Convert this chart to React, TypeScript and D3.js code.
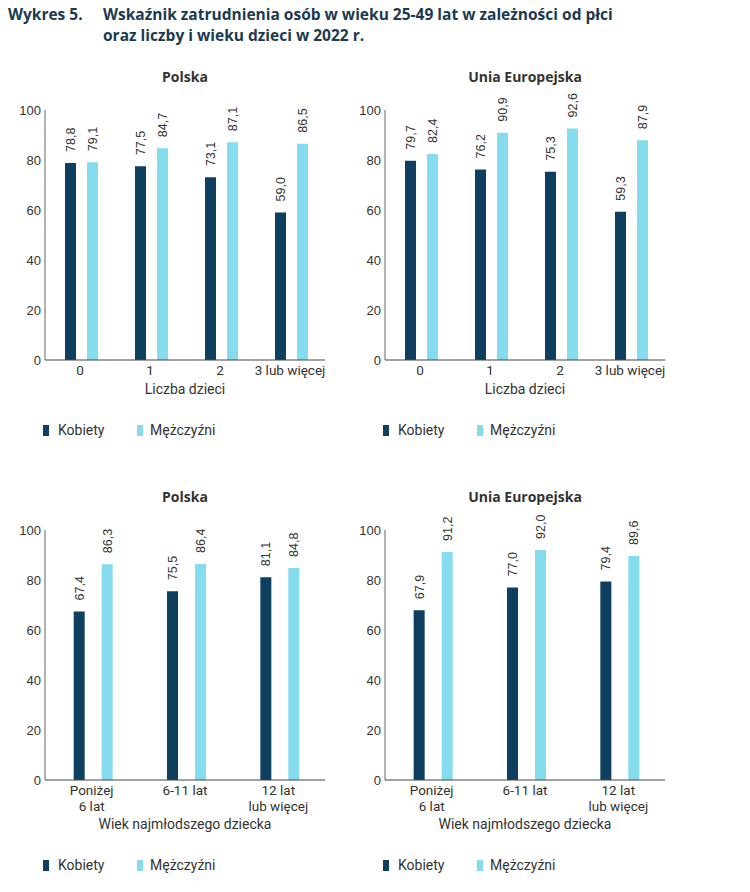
import React from 'react';
import * as d3 from 'd3';

// Liczba dzieci
const childCountCats = ['0', '1', '2', '3 lub więcej'];
const plCountWomen = [78.8, 77.5, 73.1, 59.0];
const plCountMen = [79.1, 84.7, 87.1, 86.5];
const euCountWomen = [79.7, 76.2, 75.3, 59.3];
const euCountMen = [82.4, 90.9, 92.6, 87.9];

// Wiek najmłodszego dziecka
const childAgeCats = [['Poniżej', '6 lat'], ['6-11 lat'], ['12 lat', 'lub więcej']];
const plAgeWomen = [67.4, 75.5, 81.1];
const plAgeMen = [86.3, 86.4, 84.8];
const euAgeWomen = [67.9, 77.0, 79.4];
const euAgeMen = [91.2, 92.0, 89.6];

const yTicks = [0, 20, 40, 60, 80, 100];
const seriesNames = ['Kobiety', 'Mężczyźni'];

const DARK = '#0f3f5e';
const LIGHT = '#86dcef';
const COLORS = [DARK, LIGHT];
const TEXT = '#333333';
const NUM_FONT = '"Liberation Sans", Arial, sans-serif';
const CAT_FONT = '"Open Sans", sans-serif';
const TICK_FONT = 'Roboto, sans-serif';

const fmt = (v: number) => v.toFixed(1).replace('.', ',');

interface PanelProps {
  left: number;
  top: number; // y of value 100
  title: string;
  cats: string[][];
  women: number[];
  men: number[];
  xLabel: string;
  subRange: [number, number];
  subPad: number;
}

const Panel: React.FC<PanelProps> = ({ left, top, title, cats, women, men, xLabel, subRange, subPad }) => {
  const width = 280;
  const height = 250;
  const x = d3.scaleBand<number>().domain(d3.range(cats.length)).range([left, left + width]);
  const sub = d3.scaleBand<number>().domain([0, 1]).range(subRange).paddingInner(subPad).paddingOuter(0);
  const y = d3.scaleLinear().domain([0, 100]).range([top + height, top]);
  const series = [women, men];
  const cx = (i: number) => (x(i) as number) + x.bandwidth() / 2;
  const nLines = d3.max(cats, c => c.length)!;
  const lastLineY = top + height + 15 + (nLines - 1) * 15;

  return (
    <g>
      <text x={left + width / 2} y={top - 28} textAnchor="middle" fontFamily={CAT_FONT}
        fontWeight={700} fontSize={14} fill={TEXT}>{title}</text>
      {yTicks.map(t => (
        <text key={t} x={left - 4} y={y(t)} dy="0.35em" textAnchor="end" fontFamily={NUM_FONT}
          fontSize={13} fill={TEXT}>{t}</text>
      ))}
      {series.map((vals, s) => vals.map((v, i) => {
        const bx = cx(i) + (sub(s) as number);
        return (
          <g key={`${s}-${i}`}>
            <rect x={bx} y={y(v)} width={sub.bandwidth()} height={y(0) - y(v)} fill={COLORS[s]} />
            <text transform={`translate(${bx + sub.bandwidth() / 2},${y(v) - 11}) rotate(-90)`}
              dy="0.35em" textAnchor="start" fontFamily={NUM_FONT} fontSize={12.5} fill={TEXT}>{fmt(v)}</text>
          </g>
        );
      }))}
      <line x1={left} x2={left} y1={top} y2={top + height} stroke="#999" strokeWidth={1.5} />
      <line x1={left} x2={left + width} y1={top + height} y2={top + height} stroke="#444" strokeWidth={1} />
      {cats.map((lines, i) => (
        <text key={i} x={cx(i)} textAnchor="middle" fontFamily={TICK_FONT} fontSize={13.5} fill={TEXT}>
          {lines.map((l, k) => (
            <tspan key={k} x={cx(i)} y={top + height + 14.5 + k * 16}>{l}</tspan>
          ))}
        </text>
      ))}
      <text x={left + width / 2} y={lastLineY + 19} textAnchor="middle" fontFamily={TICK_FONT}
        fontSize={14} fill={TEXT}>{xLabel}</text>
      {seriesNames.map((n, s) => (
        <g key={n}>
          <rect x={left - 2 + s * 94} y={lastLineY + 50} width={6} height={11} fill={COLORS[s]} />
          <text x={left + 13 + s * 92} y={lastLineY + 55.5} dy="0.35em" fontFamily={TICK_FONT}
            fontSize={14} fill={TEXT}>{n}</text>
        </g>
      ))}
    </g>
  );
};

const App: React.FC = () => {
  const countCats = childCountCats.map(c => [c]);
  return (
    <svg width={750} height={892} style={{ position: 'absolute', left: 0, top: 0, background: '#fff' }}>
      <text x={8} y={15} dy="0.35em" fontFamily={CAT_FONT} fontWeight={700} fontSize={15.5} fill="#1b3a4f">Wykres 5.</text>
      <text x={103} y={15} dy="0.35em" fontFamily={CAT_FONT} fontWeight={700} fontSize={15.5} fill="#1b3a4f">
        Wskaźnik zatrudnienia osób w wieku 25-49 lat w zależności od płci
      </text>
      <text x={103} y={36} dy="0.35em" fontFamily={CAT_FONT} fontWeight={700} fontSize={15.5} fill="#1b3a4f">
        oraz liczby i wieku dzieci w 2022 r.
      </text>
      <Panel left={45} top={110} title="Polska" cats={countCats} women={plCountWomen} men={plCountMen}
        xLabel="Liczba dzieci" subRange={[-15, 18]} subPad={0.5} />
      <Panel left={385} top={110} title="Unia Europejska" cats={countCats} women={euCountWomen} men={euCountMen}
        xLabel="Liczba dzieci" subRange={[-15, 18]} subPad={0.5} />
      <Panel left={45} top={530} title="Polska" cats={childAgeCats} women={plAgeWomen} men={plAgeMen}
        xLabel="Wiek najmłodszego dziecka" subRange={[-18, 21]} subPad={0.607} />
      <Panel left={385} top={530} title="Unia Europejska" cats={childAgeCats} women={euAgeWomen} men={euAgeMen}
        xLabel="Wiek najmłodszego dziecka" subRange={[-18, 21]} subPad={0.607} />
    </svg>
  );
};

export default App;
